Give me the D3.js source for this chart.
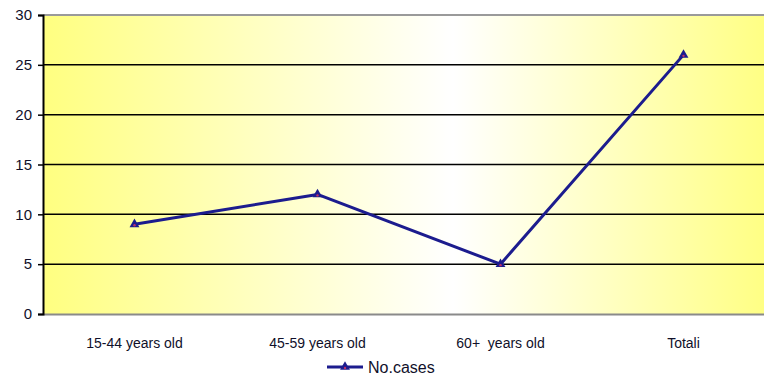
<!DOCTYPE html>
<html>
<head>
<meta charset="utf-8">
<script src="https://cdn.jsdelivr.net/npm/d3@7"></script>
<style>
  html, body { margin: 0; padding: 0; background: #fff; }
  svg { display: block; }
  text { font-family: "Liberation Sans", Arial, sans-serif; }
</style>
</head>
<body>
<svg id="chart" width="764" height="381"></svg>
<script>
// Cases by age group
const categories = ["15-44 years old", "45-59 years old", "60+  years old", "Totali"];
const cases = [9, 12, 5, 26];
const yTicks = [0, 5, 10, 15, 20, 25, 30];
const seriesName = "No.cases";

const svg = d3.select("#chart");
const plot = { left: 43, right: 775, top: 15, bottom: 314 };

const x = d3.scaleBand().domain(categories).range([plot.left, plot.right]).padding(0);
const y = d3.scaleLinear().domain([0, 30]).range([plot.bottom, plot.top]);

// plot background: yellow - white - yellow
const defs = svg.append("defs");
const grad = defs.append("linearGradient").attr("id", "bg")
  .attr("gradientUnits", "userSpaceOnUse")
  .attr("x1", plot.left).attr("x2", plot.right).attr("y1", 0).attr("y2", 0);
grad.append("stop").attr("offset", "0%").attr("stop-color", "#ffff80");
grad.append("stop").attr("offset", "56%").attr("stop-color", "#ffffff");
grad.append("stop").attr("offset", "100%").attr("stop-color", "#ffff80");

svg.append("rect")
  .attr("x", plot.left).attr("y", plot.top)
  .attr("width", plot.right - plot.left).attr("height", plot.bottom - plot.top)
  .attr("fill", "url(#bg)");

// horizontal gridlines
svg.append("g").selectAll("line")
  .data(yTicks.filter(d => d > 0 && d < 30))
  .join("line")
  .attr("x1", plot.left).attr("x2", plot.right)
  .attr("y1", d => y(d)).attr("y2", d => y(d))
  .attr("stroke", "#000").attr("stroke-width", 1.5);

// top and bottom borders of the plot area
svg.append("line")
  .attr("x1", plot.left).attr("x2", plot.right)
  .attr("y1", y(30)).attr("y2", y(30))
  .attr("stroke", "#9a9a9a").attr("stroke-width", 2);
svg.append("line")
  .attr("x1", plot.left).attr("x2", plot.right)
  .attr("y1", y(0) + 0.5).attr("y2", y(0) + 0.5)
  .attr("stroke", "#8a8a8a").attr("stroke-width", 2);

// y axis
const yAxis = d3.axisLeft(y).tickValues(yTicks).tickSize(5).tickPadding(6).tickFormat(d3.format("d"));
const gy = svg.append("g").attr("transform", `translate(${plot.left},0)`).call(yAxis);
gy.select(".domain").attr("stroke", "#000").attr("stroke-width", 2);
gy.selectAll(".tick line").attr("stroke", "#000").attr("stroke-width", 1.5);
gy.selectAll(".tick text")
  .attr("font-size", 15).attr("fill", "#10102a")
  .style("font-family", "'Liberation Sans', Arial, sans-serif");

// category labels
const xAxis = d3.axisBottom(x).tickSize(0).tickPadding(24);
const gx = svg.append("g").attr("transform", `translate(0,${plot.bottom})`).call(xAxis);
gx.select(".domain").remove();
gx.selectAll(".tick text")
  .attr("font-size", 14).attr("fill", "#10102a")
  .style("white-space", "pre")
  .style("font-family", "'Liberation Sans', Arial, sans-serif");

// series line
const cx = d => x(d) + x.bandwidth() / 2;
const pts = categories.map((c, i) => [cx(c), y(cases[i])]);
svg.append("path")
  .attr("d", d3.line()(pts))
  .attr("fill", "none")
  .attr("stroke", "#1c1c8e")
  .attr("stroke-width", 3)
  .attr("stroke-linejoin", "round");

// triangle markers
const tri = d3.symbol().type(d3.symbolTriangle).size(42);
const mk = svg.append("g").selectAll("g").data(pts).join("g")
  .attr("transform", d => `translate(${d[0]},${d[1]})`);
mk.append("path").attr("d", tri).attr("fill", "#1c1c8e");
mk.append("circle").attr("r", 1.2).attr("cy", 1).attr("fill", "#c0306a");

// legend
const lg = svg.append("g").attr("transform", "translate(327,367)");
lg.append("line").attr("x1", 0).attr("x2", 36).attr("y1", 0).attr("y2", 0)
  .attr("stroke", "#1c1c8e").attr("stroke-width", 3);
lg.append("path").attr("d", tri).attr("transform", "translate(18,0)").attr("fill", "#1c1c8e");
lg.append("circle").attr("r", 1.2).attr("cx", 18).attr("cy", 1).attr("fill", "#c0306a");
lg.append("text").attr("x", 41).attr("y", 6)
  .attr("font-size", 16).attr("fill", "#10102a")
  .text(seriesName);
</script>
</body>
</html>
